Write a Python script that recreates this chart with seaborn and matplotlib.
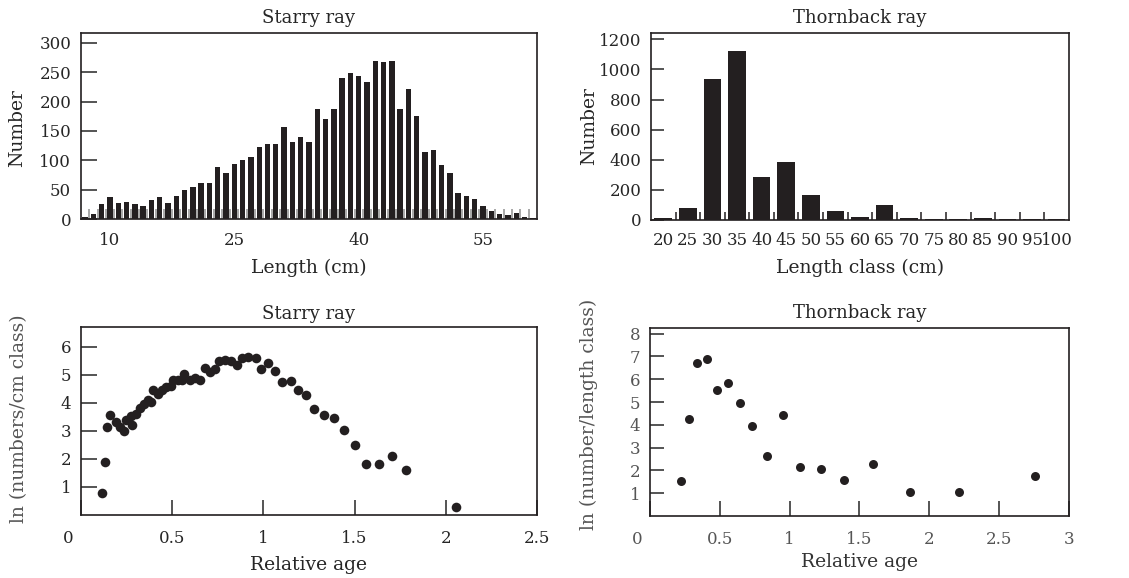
import numpy as np
import pandas as pd
import seaborn as sns
import matplotlib.pyplot as plt
import matplotlib.transforms as mtransforms

# Starry ray length frequencies (1 cm classes, 7..61 cm)
starry_len = list(range(7, 62))
starry_num = [3, 8, 26, 38, 28, 29, 26, 23, 32, 38, 28, 40, 49, 54, 62, 61, 88, 78, 93,
              100, 105, 123, 127, 127, 157, 131, 140, 132, 187, 170, 187, 240, 248, 244,
              234, 269, 267, 269, 187, 221, 176, 115, 118, 92, 78, 45, 39, 34, 23, 14,
              9, 6, 10, 4, 1]

# Thornback ray length classes
thorn_cls = ['20', '25', '30', '35', '40', '45', '50', '55', '60', '65', '70', '75',
             '80', '85', '90', '95', '100']
thorn_num = [15, 80, 936, 1122, 286, 387, 166, 62, 20, 97, 15, 9, 9, 15, 9, 9, 9]

# Catch curves
starry_age = [0.115, 0.134, 0.145, 0.158, 0.194, 0.213, 0.235, 0.249, 0.282, 0.277,
              0.304, 0.322, 0.346, 0.365, 0.383, 0.396, 0.42, 0.442, 0.469, 0.491,
              0.506, 0.533, 0.555, 0.564, 0.597, 0.625, 0.652, 0.68, 0.707, 0.735,
              0.758, 0.79, 0.822, 0.857, 0.881, 0.918, 0.958, 0.986, 1.024, 1.064,
              1.10, 1.152, 1.192, 1.235, 1.28, 1.33, 1.385, 1.44, 1.504, 1.564, 1.632,
              1.705, 1.782, 2.057]
starry_ln = [0.77, 1.90, 3.15, 3.57, 3.33, 3.13, 3.01, 3.39, 3.2, 3.54,
             3.61, 3.81, 3.96, 4.11, 4.01, 4.44, 4.32, 4.46, 4.56, 4.61,
             4.80, 4.82, 4.80, 5.02, 4.82, 4.88, 4.82, 5.24, 5.08, 5.20,
             5.48, 5.51, 5.48, 5.36, 5.6, 5.63, 5.6, 5.2, 5.42, 5.14,
             4.73, 4.76, 4.46, 4.29, 3.77, 3.57, 3.45, 3.04, 2.5, 1.82, 1.80,
             2.12, 1.61, 0.30]

thorn_age = [0.219, 0.279, 0.339, 0.411, 0.483, 0.559, 0.643, 0.731, 0.835, 0.95,
             1.074, 1.225, 1.392, 1.60, 1.859, 2.21, 2.76]
thorn_ln = [1.53, 4.24, 6.73, 6.90, 5.54, 5.83, 4.97, 3.97, 2.63, 4.41,
            2.17, 2.04, 1.59, 2.26, 1.06, 1.06, 1.75]

sns.set_style('ticks')
plt.rcParams['font.family'] = ['DejaVu Serif']
plt.rcParams['font.size'] = 12
plt.rcParams['axes.titlesize'] = 13
plt.rcParams['axes.labelsize'] = 13.5
plt.rcParams['axes.linewidth'] = 1.2

dark = '#231f20'
grey = '#555555'

fig = plt.figure(figsize=(11.29, 5.78), dpi=100)
ax1 = fig.add_axes([0.0717, 0.6211, 0.4039, 0.3218])
ax2 = fig.add_axes([0.5766, 0.6194, 0.3702, 0.3235])
ax3 = fig.add_axes([0.0717, 0.1090, 0.4039, 0.3253])
ax4 = fig.add_axes([0.5757, 0.1073, 0.3711, 0.3253])

# top left
df1 = pd.DataFrame({'len': starry_len, 'num': starry_num})
sns.barplot(data=df1, x='len', y='num', color=dark, saturation=1, width=0.65,
            edgecolor='none', ax=ax1)
ax1.set_xlim(-0.5, len(starry_len) - 0.5)
ax1.set_ylim(0, 317)
ax1.set_xticks([3, 18, 33, 48], ['10', '25', '40', '55'])
ax1.set_xticks(np.arange(0.5, len(starry_len) - 1, 1), minor=True)
ax1.tick_params(axis='x', which='major', length=0, pad=9)
ax1.tick_params(axis='x', which='minor', direction='in', length=7.5, width=1.2,
                color='#9a9a9a')
ax1.set_yticks(range(0, 301, 50))
ax1.tick_params(axis='y', direction='in', length=11.5, width=1.1, pad=7)
ax1.set_title('Starry ray', pad=7)
ax1.set_xlabel('Length (cm)')
ax1.set_ylabel('Number')

# top right
df2 = pd.DataFrame({'cls': thorn_cls, 'num': thorn_num})
sns.barplot(data=df2, x='cls', y='num', color=dark, saturation=1, width=0.72,
            edgecolor='none', ax=ax2)
ax2.set_xlim(-0.5, len(thorn_cls) - 0.5)
ax2.set_ylim(0, 1242)
ax2.set_xticks(np.arange(0.5, len(thorn_cls) - 1, 1), minor=True)
ax2.tick_params(axis='x', which='major', length=0, pad=9)
ax2.tick_params(axis='x', which='minor', direction='in', length=5.8, width=1.1,
                color=dark)
ax2.set_yticks(range(0, 1201, 200))
ax2.tick_params(axis='y', direction='in', length=9.4, width=1.1, pad=7)
ax2.set_title('Thornback ray', pad=7)
ax2.set_xlabel('Length class (cm)')
ax2.set_ylabel('Number')

# bottom left
sns.scatterplot(x=starry_age, y=starry_ln, color=dark, s=48, linewidth=0, ax=ax3)
ax3.set_xlim(0, 2.5)
ax3.set_ylim(0, 6.7)
ax3.set_xticks([0, 0.5, 1, 1.5, 2, 2.5], ['0', '0.5', '1', '1.5', '2', '2.5'])
ax3.set_yticks(range(1, 7))
ax3.tick_params(axis='x', direction='in', length=10.8, width=1.1, pad=11)
ax3.tick_params(axis='y', direction='in', length=11.5, width=1.1, pad=7)
ax3.set_title('Starry ray', pad=6)
ax3.set_xlabel('Relative age')
ax3.set_ylabel('ln (numbers/cm class)', color=grey)

# bottom right
sns.scatterplot(x=thorn_age, y=thorn_ln, color=dark, s=42, linewidth=0, ax=ax4)
ax4.set_xlim(0, 3)
ax4.set_ylim(0, 8.25)
ax4.set_xticks([0, 0.5, 1, 1.5, 2, 2.5, 3], ['0', '0.5', '1', '1.5', '2', '2.5', '3'])
ax4.set_yticks(range(1, 9))
ax4.tick_params(axis='x', direction='in', length=10.8, width=1.1, pad=11,
                labelcolor=grey)
ax4.tick_params(axis='y', direction='in', length=10, width=1.1, pad=7,
                labelcolor=grey)
ax4.set_title('Thornback ray', pad=7)
ax4.set_xlabel('Relative age', color='#333333')
ax4.set_ylabel('ln (number/length class)', color=grey)

for ax in (ax1, ax2, ax3, ax4):
    for sp in ax.spines.values():
        sp.set_visible(True)
        sp.set_color(dark)
    ax.yaxis.label.set_va('center')
    ax.xaxis.label.set_va('center')

# origin labels sit a little left of the corner
for ax in (ax3, ax4):
    lab = ax.get_xticklabels()[0]
    lab.set_transform(lab.get_transform() +
                      mtransforms.ScaledTranslation(-0.13, 0, fig.dpi_scale_trans))

ax1.yaxis.set_label_coords(-0.139, 0.49)
ax2.yaxis.set_label_coords(-0.148, 0.5)
ax3.yaxis.set_label_coords(-0.135, 0.51)
ax4.yaxis.set_label_coords(-0.146, 0.54)
ax1.xaxis.set_label_coords(0.5, -0.263)
ax2.xaxis.set_label_coords(0.5, -0.257)
ax3.xaxis.set_label_coords(0.5, -0.266)
ax4.xaxis.set_label_coords(0.5, -0.245)

fig.savefig('out.png', dpi=100)
